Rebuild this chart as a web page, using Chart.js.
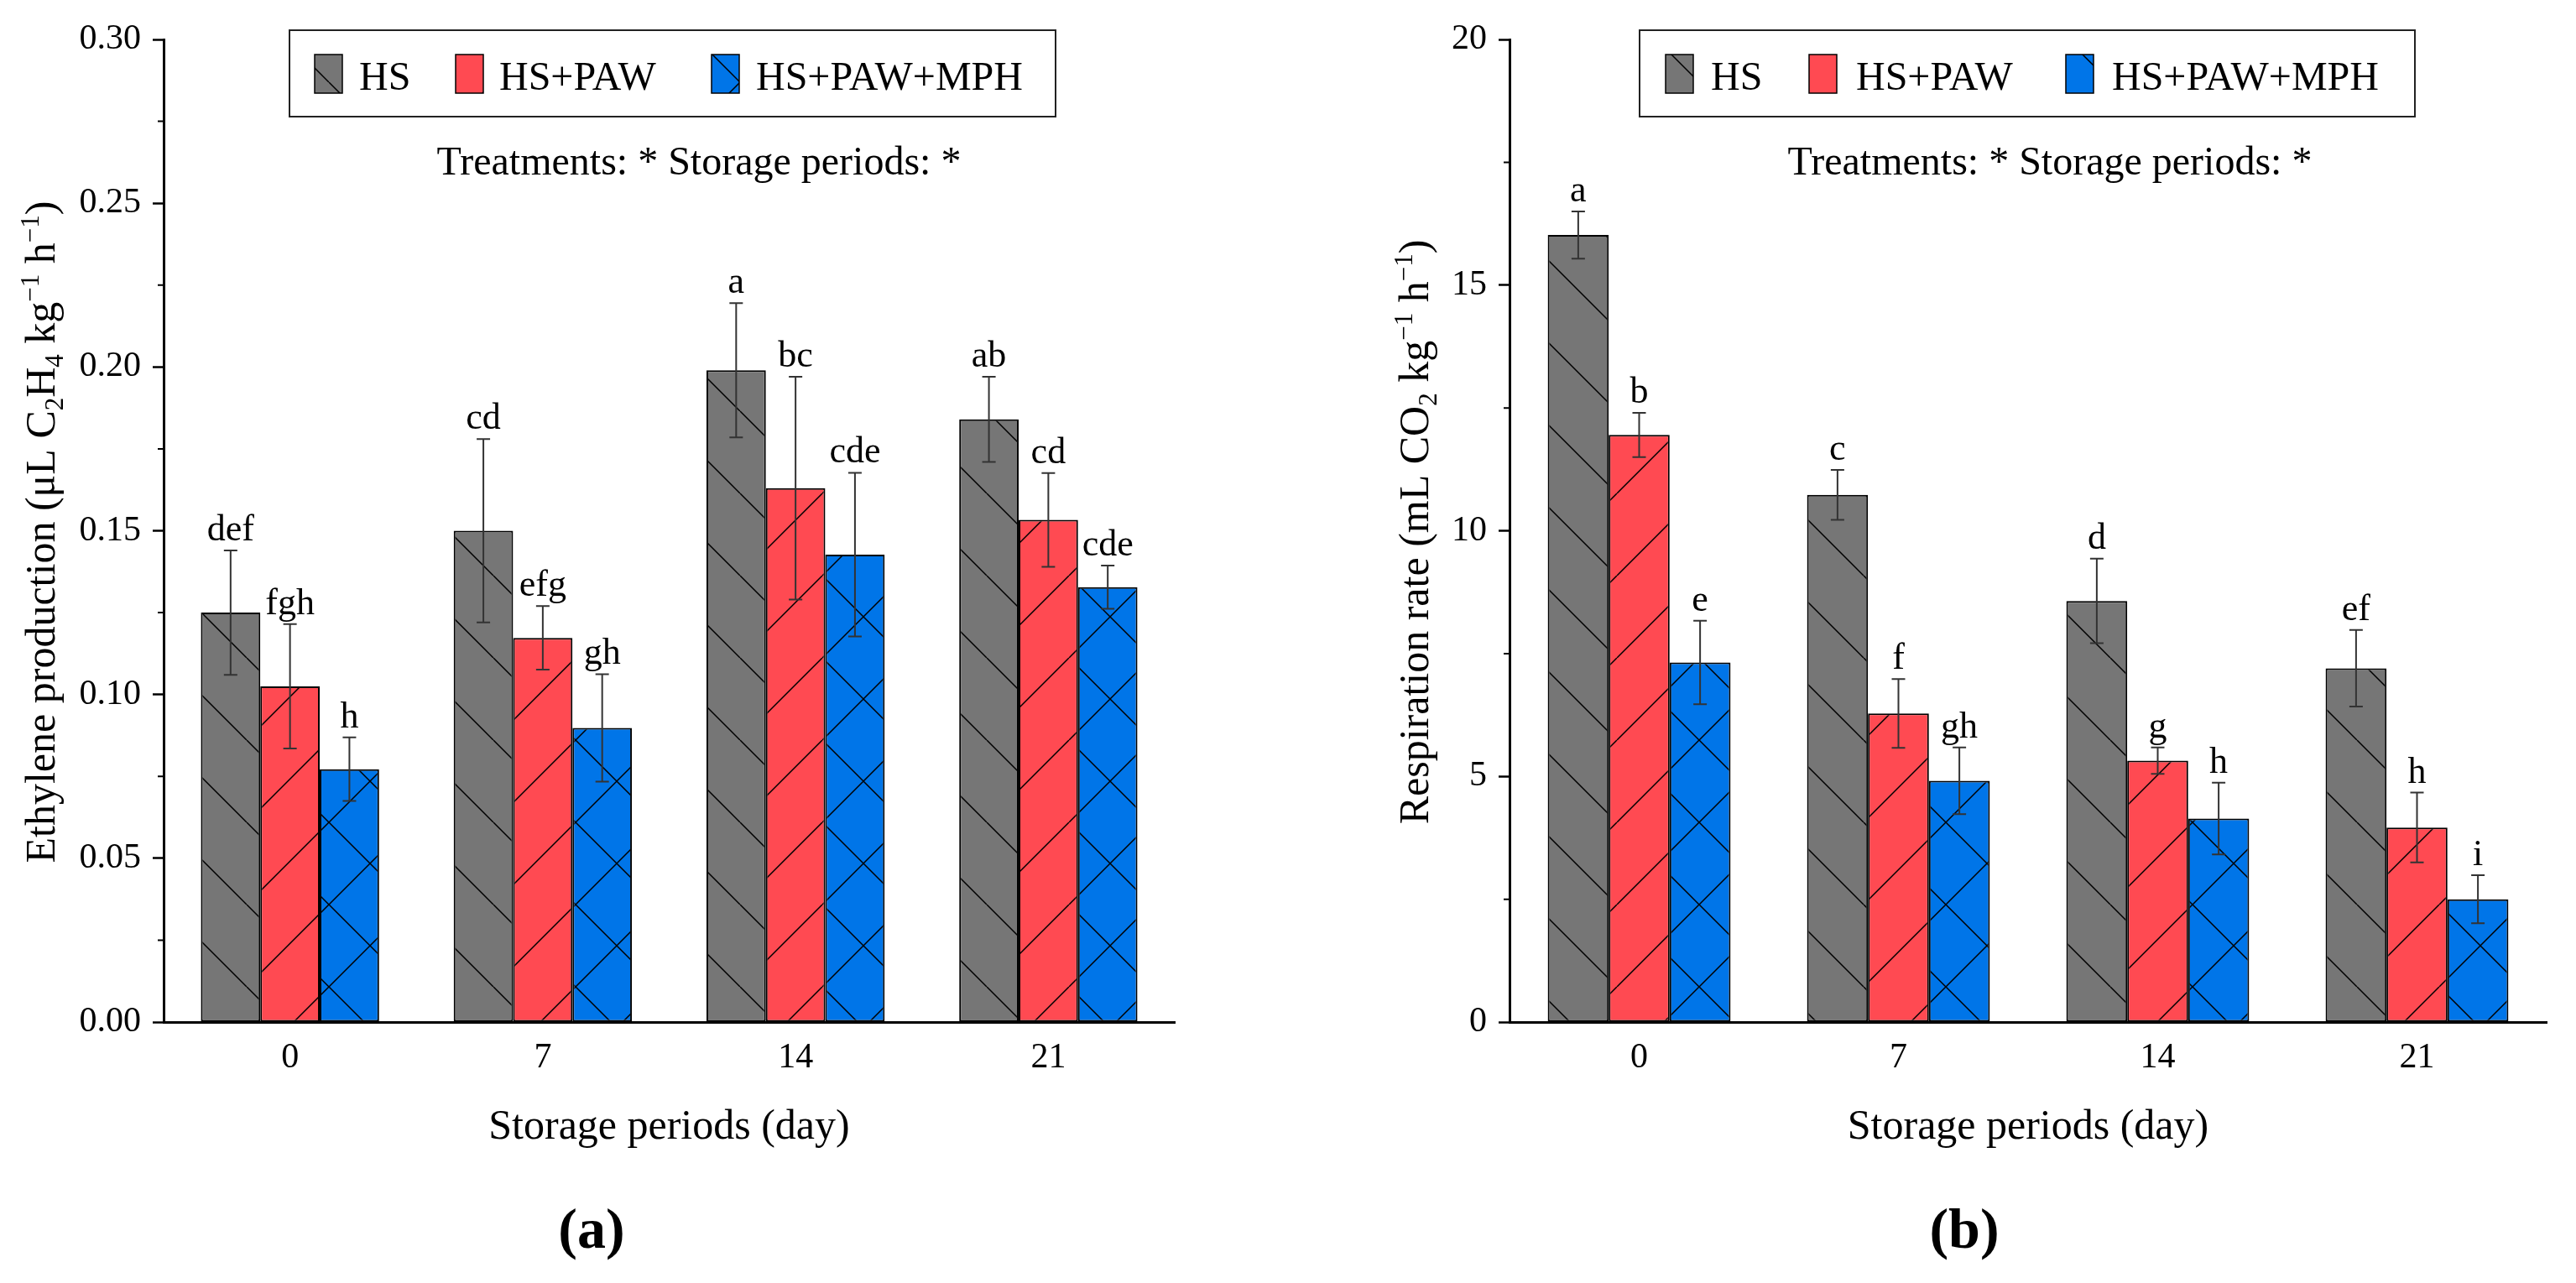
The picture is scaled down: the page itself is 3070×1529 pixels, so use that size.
<!DOCTYPE html>
<html>
<head>
<meta charset="utf-8">
<title>Ethylene production and respiration rate</title>
<script src="https://cdn.jsdelivr.net/npm/chart.js@4.4.1/dist/chart.umd.min.js"></script>
<style>
  html, body { margin: 0; padding: 0; background: #fff; }
  #wrap { position: relative; width: 3070px; height: 1529px; }
  #wrap canvas { position: absolute; top: 0; }
  #chartA { left: 0; }
  #chartB { left: 1535px; }
</style>
</head>
<body>
<div id="wrap">
  <canvas id="chartA" width="1535" height="1529"></canvas>
  <canvas id="chartB" width="1535" height="1529"></canvas>
</div>
<script>
// Storage periods (x axis) and treatments (one bar each)
const days = ['0', '7', '14', '21'];
const treatments = ['HS', 'HS+PAW', 'HS+PAW+MPH'];

// (a) Ethylene production (uL C2H4 kg-1 h-1), means, SD and letters
const ethyleneHS = [0.125, 0.150, 0.199, 0.184];
const ethylenePAW = [0.1025, 0.1173, 0.163, 0.1533];
const ethyleneMPH = [0.0772, 0.0898, 0.1427, 0.1328];
const ethyleneHSErr = [0.019, 0.028, 0.0205, 0.013];
const ethylenePAWErr = [0.019, 0.0097, 0.034, 0.0143];
const ethyleneMPHErr = [0.0097, 0.0164, 0.025, 0.0066];
const ethyleneHSLetters = ['def', 'cd', 'a', 'ab'];
const ethylenePAWLetters = ['fgh', 'efg', 'bc', 'cd'];
const ethyleneMPHLetters = ['h', 'gh', 'cde', 'cde'];
const ethyleneTicks = [0, 0.05, 0.10, 0.15, 0.20, 0.25, 0.30];

// (b) Respiration rate (mL CO2 kg-1 h-1)
const respHS = [16.02, 10.73, 8.57, 7.20];
const respPAW = [11.95, 6.28, 5.32, 3.96];
const respMPH = [7.32, 4.91, 4.14, 2.50];
const respHSErr = [0.48, 0.51, 0.86, 0.78];
const respPAWErr = [0.45, 0.70, 0.27, 0.71];
const respMPHErr = [0.85, 0.68, 0.73, 0.49];
const respHSLetters = ['a', 'c', 'd', 'ef'];
const respPAWLetters = ['b', 'f', 'g', 'h'];
const respMPHLetters = ['e', 'gh', 'h', 'i'];
const respTicks = [0, 5, 10, 15, 20];

const noteText = 'Treatments: * Storage periods: *';
const xTitle = 'Storage periods (day)';

const SERIF = '"Liberation Serif", "Times New Roman", serif';
Chart.defaults.font.family = SERIF;
Chart.defaults.color = '#000';

const fills = ['#767676', '#ff4a52', '#0075e8'];
const hatchDirs = ['\\', '/', 'x'];

// tile with a fill colour and 45 degree hatch lines
function makeHatch(ctx, bg, dir) {
  const T = 98;
  const c = document.createElement('canvas');
  c.width = T; c.height = T;
  const g = c.getContext('2d');
  g.fillStyle = bg;
  g.fillRect(0, 0, T, T);
  g.strokeStyle = '#000';
  g.lineWidth = 1.5;
  g.beginPath();
  if (dir === '\\' || dir === 'x') {
    for (let k = -1; k <= 1; k++) { g.moveTo(0, k * T); g.lineTo(T, k * T + T); }
  }
  if (dir === '/' || dir === 'x') {
    for (let k = 0; k <= 2; k++) { g.moveTo(0, k * T); g.lineTo(T, k * T - T); }
  }
  g.stroke();
  return ctx.createPattern(c, 'repeat');
}

/* ---------- plugins ---------- */

const errorBars = {
  id: 'errorBars',
  afterDatasetsDraw(chart) {
    const { ctx } = chart;
    const y = chart.scales.y;
    ctx.save();
    chart.data.datasets.forEach((ds, i) => {
      chart.getDatasetMeta(i).data.forEach((bar, j) => {
        const v = ds.data[j], e = ds.errors[j];
        const top = y.getPixelForValue(v + e);
        const bot = y.getPixelForValue(v - e);
        ctx.strokeStyle = '#333';
        ctx.lineWidth = 2;
        ctx.beginPath();
        ctx.moveTo(bar.x, top); ctx.lineTo(bar.x, bot);
        ctx.moveTo(bar.x - 8, top); ctx.lineTo(bar.x + 8, top);
        ctx.moveTo(bar.x - 8, bot); ctx.lineTo(bar.x + 8, bot);
        ctx.stroke();
        ctx.fillStyle = '#000';
        ctx.font = `44px ${SERIF}`;
        ctx.textAlign = 'center';
        ctx.textBaseline = 'alphabetic';
        ctx.fillText(ds.letters[j], bar.x, top - 12);
      });
    });
    ctx.restore();
  }
};

const minorTicks = {
  id: 'minorTicks',
  afterDraw(chart) {
    const { ctx } = chart;
    const y = chart.scales.y;
    const vals = y.ticks.map(t => t.value);
    ctx.save();
    ctx.strokeStyle = '#000';
    ctx.lineWidth = 2;
    ctx.beginPath();
    for (let i = 0; i < vals.length - 1; i++) {
      const py = y.getPixelForValue((vals[i] + vals[i + 1]) / 2);
      ctx.moveTo(y.right - 7, py);
      ctx.lineTo(y.right, py);
    }
    ctx.stroke();
    ctx.restore();
  }
};

function drawRichRotated(ctx, cx, cy, segs, size) {
  const small = Math.round(size * 0.62);
  const fontOf = s => `${s.kind ? small : size}px ${SERIF}`;
  let total = 0;
  segs.forEach(s => { ctx.font = fontOf(s); s.w = ctx.measureText(s.t).width; total += s.w; });
  ctx.save();
  ctx.translate(cx, cy);
  ctx.rotate(-Math.PI / 2);
  ctx.fillStyle = '#000';
  ctx.textAlign = 'left';
  ctx.textBaseline = 'alphabetic';
  let x = -total / 2;
  const base = size * 0.33;
  segs.forEach(s => {
    ctx.font = fontOf(s);
    const dy = s.kind === 'sub' ? size * 0.2 : s.kind === 'sup' ? -size * 0.38 : 0;
    ctx.fillText(s.t, x, base + dy);
    x += s.w;
  });
  ctx.restore();
}

// boxed legend, ANOVA note, rich y title and panel tag
const panelDecor = {
  id: 'panelDecor',
  afterDraw(chart, args, o) {
    const { ctx } = chart;
    ctx.save();
    const [bx0, by0, bx1, by1] = o.box;
    ctx.fillStyle = '#fff';
    ctx.fillRect(bx0, by0, bx1 - bx0, by1 - by0);
    ctx.strokeStyle = '#222';
    ctx.lineWidth = 2;
    ctx.strokeRect(bx0, by0, bx1 - bx0, by1 - by0);

    chart.data.datasets.forEach((ds, i) => {
      const sx = o.swatchX[i];
      ctx.fillStyle = ds.backgroundColor;
      ctx.fillRect(sx, 65, 33, 46);
      ctx.strokeStyle = '#000';
      ctx.lineWidth = 1.5;
      ctx.strokeRect(sx, 65, 33, 46);
      ctx.fillStyle = '#000';
      ctx.font = `48px ${SERIF}`;
      ctx.textAlign = 'left';
      ctx.textBaseline = 'alphabetic';
      ctx.fillText(ds.label, o.textX[i], 107);
    });

    ctx.font = `48px ${SERIF}`;
    ctx.textAlign = 'center';
    ctx.fillText(noteText, o.noteX, 208);

    drawRichRotated(ctx, o.titleX, 634, o.title, 50);

    ctx.font = `bold 68px ${SERIF}`;
    ctx.textAlign = 'center';
    ctx.textBaseline = 'middle';
    ctx.fillText(o.tag, o.tagX, 1469);
    ctx.restore();
  }
};

/* ---------- chart builder ---------- */

function buildPanel(id, series, errs, letters, ticks, fmt, yWidth, padRight, decor) {
  const canvas = document.getElementById(id);
  const ctx = canvas.getContext('2d');
  const datasets = treatments.map((t, i) => ({
    label: t,
    data: series[i],
    errors: errs[i],
    letters: letters[i],
    backgroundColor: makeHatch(ctx, fills[i], hatchDirs[i]),
    borderColor: '#000',
    borderWidth: 2,
    borderSkipped: false,
    categoryPercentage: 0.705,
    barPercentage: 1.0
  }));

  return new Chart(ctx, {
    type: 'bar',
    data: { labels: days, datasets },
    options: {
      responsive: false,
      maintainAspectRatio: false,
      animation: false,
      layout: { padding: { left: 0, right: padRight, top: 47, bottom: 0 } },
      plugins: {
        legend: { display: false },
        tooltip: { enabled: false },
        panelDecor: decor
      },
      scales: {
        x: {
          grid: { display: false, drawTicks: false },
          border: { display: true, color: '#000', width: 3 },
          ticks: { color: '#000', font: { size: 42 }, padding: 18 },
          title: {
            display: true, text: xTitle, color: '#000',
            font: { size: 50 }, padding: { top: 0, bottom: 155 }
          },
          afterFit: s => { s.height = 311; }
        },
        y: {
          min: ticks[0],
          max: ticks[ticks.length - 1],
          afterBuildTicks: s => { s.ticks = ticks.map(v => ({ value: v })); },
          ticks: { color: '#000', font: { size: 42 }, padding: 14, callback: v => fmt(v) },
          grid: { drawOnChartArea: false, drawTicks: true, tickLength: 13, tickWidth: 2.5, tickColor: '#000' },
          border: { display: true, color: '#000', width: 3 },
          afterFit: s => { s.width = yWidth; }
        }
      }
    },
    plugins: [errorBars, minorTicks, panelDecor]
  });
}

buildPanel('chartA',
  [ethyleneHS, ethylenePAW, ethyleneMPH],
  [ethyleneHSErr, ethylenePAWErr, ethyleneMPHErr],
  [ethyleneHSLetters, ethylenePAWLetters, ethyleneMPHLetters],
  ethyleneTicks, v => Number(v).toFixed(2), 195, 135,
  {
    box: [345, 36, 1258, 139],
    swatchX: [375, 543, 848],
    textX: [428, 595, 901],
    noteX: 833,
    titleX: 48,
    title: [
      { t: 'Ethylene production (\u03bcL C' }, { t: '2', kind: 'sub' }, { t: 'H' }, { t: '4', kind: 'sub' },
      { t: ' kg' }, { t: '\u22121', kind: 'sup' }, { t: ' h' }, { t: '\u22121', kind: 'sup' }, { t: ')' }
    ],
    tag: '(a)',
    tagX: 705
  });

buildPanel('chartB',
  [respHS, respPAW, respMPH],
  [respHSErr, respPAWErr, respMPHErr],
  [respHSLetters, respPAWLetters, respMPHLetters],
  respTicks, v => String(v), 264, 35,
  {
    box: [419, 36, 1343, 139],
    swatchX: [450, 621, 927],
    textX: [504, 677, 982],
    noteX: 908,
    titleX: 150,
    title: [
      { t: 'Respiration rate (mL CO' }, { t: '2', kind: 'sub' },
      { t: ' kg' }, { t: '\u22121', kind: 'sup' }, { t: ' h' }, { t: '\u22121', kind: 'sup' }, { t: ')' }
    ],
    tag: '(b)',
    tagX: 806
  });
</script>
</body>
</html>
